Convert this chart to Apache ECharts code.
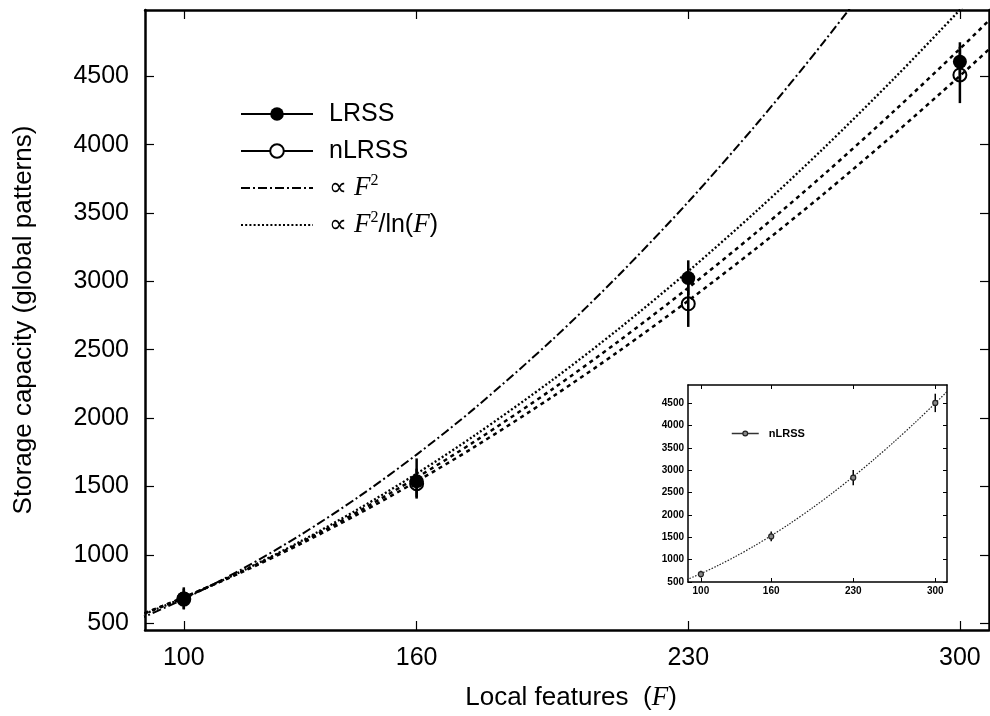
<!DOCTYPE html>
<html><head><meta charset="utf-8">
<script src="https://cdn.jsdelivr.net/npm/echarts@6/dist/echarts.min.js"></script>
<style>html,body{margin:0;padding:0;background:#fff}#c{width:990px;height:716px}</style>
</head><body><div id="c"></div>
<script>
// ---- data ----
const features = [100, 160, 230, 300];
const xTicks = [100, 160, 230, 300];
const yTicks = [500, 1000, 1500, 2000, 2500, 3000, 3500, 4000, 4500];
const insetYTicks = [500, 1000, 1500, 2000, 2500, 3000, 3500, 4000, 4500];

const lrss    = [681, 1538, 3024, 4607];
const lrssLo  = [605, 1420, 2900, 4470];
const lrssHi  = [762, 1705, 3154, 4749];
const nlrss   = [676, 1520, 2836, 4510];
const nlrssLo = [600, 1411, 2667, 4304];
const nlrssHi = [752, 1630, 3005, 4716];

// curves
const curveF      = [88, 100, 115, 130, 145, 160, 175, 195, 212, 230, 248, 265, 283, 300, 310];
const curveF2     = [524, 677, 895, 1144, 1423, 1733, 2073, 2574, 3043, 3581, 4164, 4754, 5422, 6093, 6506];
const curveF2lnF  = [546, 686, 881, 1097, 1335, 1594, 1874, 2279, 2651, 3074, 3525, 3977, 4483, 4986, 5293];
const curveFitL   = [550, 688, 878, 1088, 1317, 1565, 1830, 2212, 2561, 2953, 3369, 3783, 4245, 4701, 4979];
const curveFitN   = [553, 688, 874, 1078, 1299, 1537, 1791, 2156, 2487, 2859, 3252, 3642, 4076, 4503, 4763];
const insetCurve  = [553, 688, 874, 1078, 1299, 1537, 1791, 2156, 2487, 2859, 3252, 3642, 4076, 4503, 4763];

// ---- helpers ----
const pairs = (xs, ys) => xs.map((x, i) => [x, ys[i]]);
const triples = (xs, lo, hi) => xs.map((x, i) => [x, lo[i], hi[i]]);
const FONT = 'Liberation Sans';

function errRender(width) {
  return function (params, api) {
    const x = api.value(0);
    const p1 = api.coord([x, api.value(1)]);
    const p2 = api.coord([x, api.value(2)]);
    return { type: 'line', shape: { x1: p1[0], y1: p1[1], x2: p2[0], y2: p2[1] },
      style: { stroke: '#000', lineWidth: width } };
  };
}

function axis(opts) {
  const o = {
    type: 'value', gridIndex: opts.grid, min: opts.min, max: opts.max,
    position: opts.position,
    axisLine: { show: true, onZero: false, lineStyle: { color: '#000', width: opts.lw } },
    axisTick: { show: true, inside: true, length: opts.tl, customValues: opts.ticks,
      lineStyle: { color: '#000', width: opts.tw } },
    axisLabel: { show: !!opts.labels, customValues: opts.ticks, color: '#000',
      formatter: v => String(v),
      fontSize: opts.fs, fontFamily: FONT, fontWeight: opts.fw || 'normal', margin: opts.margin },
    splitLine: { show: false }
  };
  return Object.assign(o, opts.extra || {});
}

const chart = echarts.init(document.getElementById('c'), null, { renderer: 'canvas' });

const legendNames = {
  'LRSS': 'LRSS',
  'nLRSS': 'nLRSS',
  'F2': '∝ {i|F}{s|2}',
  'F2lnF': '∝ {i|F}{s|2}/ln({i|F})'
};
const noSymbol = { color: 'rgba(0,0,0,0)', borderColor: 'rgba(0,0,0,0)', borderWidth: 0 };

const option = {
  animation: false,
  backgroundColor: '#fff',
  grid: [
    { left: 145, top: 10, width: 844, height: 626 },
    { left: 688, top: 385, width: 259, height: 197, show: true, backgroundColor: '#fff', borderWidth: 0 }
  ],
  xAxis: [
    axis({ grid: 0, min: 90, max: 307.5, position: 'bottom', lw: 2.5, tl: 9, tw: 1.2, ticks: xTicks,
      labels: true, fs: 25, margin: 16,
      extra: { name: 'Local features  ({f|F})', nameLocation: 'middle', nameGap: 54,
        nameTextStyle: { fontSize: 26, fontFamily: FONT, color: '#000', padding: [0, 0, 0, 8],
          rich: { f: { fontSize: 27, fontFamily: 'Liberation Serif', fontStyle: 'italic', color: '#000' } } } } }),
    axis({ grid: 0, min: 90, max: 307.5, position: 'top', lw: 2.5, tl: 9, tw: 1.2, ticks: xTicks }),
    axis({ grid: 1, min: 89, max: 310, position: 'bottom', lw: 1.5, tl: 4, tw: 1, ticks: xTicks,
      labels: true, fs: 10, fw: 'bold', margin: 4 }),
    axis({ grid: 1, min: 89, max: 310, position: 'top', lw: 1.5, tl: 4, tw: 1, ticks: xTicks })
  ],
  yAxis: [
    axis({ grid: 0, min: 450, max: 4985, position: 'left', lw: 2.5, tl: 9, tw: 1.2, ticks: yTicks,
      labels: true, fs: 25, margin: 16,
      extra: { name: 'Storage capacity (global patterns)', nameLocation: 'middle', nameGap: 108,
        nameTextStyle: { fontSize: 26, fontFamily: FONT, color: '#000' } } }),
    axis({ grid: 0, min: 450, max: 4985, position: 'right', lw: 2.5, tl: 9, tw: 1.2, ticks: yTicks }),
    axis({ grid: 1, min: 500, max: 4911, position: 'left', lw: 1.5, tl: 4, tw: 1, ticks: insetYTicks,
      labels: true, fs: 10, fw: 'bold', margin: 4 }),
    axis({ grid: 1, min: 500, max: 4911, position: 'right', lw: 1.5, tl: 4, tw: 1, ticks: insetYTicks })
  ],
  legend: [
    {
      orient: 'vertical', left: 235, top: 94, itemWidth: 72, itemHeight: 17, itemGap: 7,
      selectedMode: false,
      data: [
        { name: 'LRSS', lineStyle: { opacity: 1, width: 2, color: '#000', type: 'solid' },
          itemStyle: { color: '#000', borderWidth: 0 } },
        { name: 'nLRSS', lineStyle: { opacity: 1, width: 2, color: '#000', type: 'solid' },
          itemStyle: { color: '#fff', borderColor: '#000', borderWidth: 2 } },
        { name: 'F2', itemStyle: noSymbol },
        { name: 'F2lnF', itemStyle: noSymbol }
      ],
      formatter: n => legendNames[n],
      textStyle: {
        fontSize: 25, fontFamily: FONT, color: '#000', lineHeight: 30, padding: [0, 0, 0, 11],
        rich: {
          i: { fontSize: 27, fontFamily: 'Liberation Serif', fontStyle: 'italic', color: '#000', lineHeight: 30 },
          s: { fontSize: 16, fontFamily: 'Liberation Serif', color: '#000', verticalAlign: 'top', lineHeight: 16 }
        }
      }
    },
    {
      orient: 'vertical', left: 726, top: 423, itemWidth: 27, itemHeight: 6,
      selectedMode: false,
      data: [{ name: 'nLRSS_inset', lineStyle: { opacity: 1, width: 1.5, color: '#333', type: 'solid' },
        itemStyle: { color: '#888', borderColor: '#222', borderWidth: 1.2 } }],
      formatter: () => 'nLRSS',
      textStyle: { fontSize: 11, fontWeight: 'bold', fontFamily: FONT, color: '#000', padding: [0, 0, 0, 5] }
    }
  ],
  series: [
    { name: 'F2', type: 'line', xAxisIndex: 0, yAxisIndex: 0, data: pairs(curveF, curveF2),
      smooth: 0.3, symbol: 'none', clip: true, z: 2,
      lineStyle: { color: '#000', width: 2, type: [9, 3, 2, 3] }, itemStyle: { color: '#000' } },
    { name: 'F2lnF', type: 'line', xAxisIndex: 0, yAxisIndex: 0, data: pairs(curveF, curveF2lnF),
      smooth: 0.3, symbol: 'none', clip: true, z: 2,
      lineStyle: { color: '#000', width: 2.3, type: [2, 2.2] }, itemStyle: { color: '#000' } },
    { name: 'fitLRSS', type: 'line', xAxisIndex: 0, yAxisIndex: 0, data: pairs(curveF, curveFitL),
      smooth: 0.3, symbol: 'none', clip: true, z: 2,
      lineStyle: { color: '#000', width: 2.5, type: [4, 4] } },
    { name: 'fitnLRSS', type: 'line', xAxisIndex: 0, yAxisIndex: 0, data: pairs(curveF, curveFitN),
      smooth: 0.3, symbol: 'none', clip: true, z: 2,
      lineStyle: { color: '#000', width: 2.5, type: [4, 4] } },
    { name: 'errLRSS', type: 'custom', xAxisIndex: 0, yAxisIndex: 0, z: 3,
      data: triples(features, lrssLo, lrssHi), encode: { x: 0, y: [1, 2] }, renderItem: errRender(2.5) },
    { name: 'errnLRSS', type: 'custom', xAxisIndex: 0, yAxisIndex: 0, z: 3,
      data: triples(features, nlrssLo, nlrssHi), encode: { x: 0, y: [1, 2] }, renderItem: errRender(2.5) },
    { name: 'LRSS', type: 'line', xAxisIndex: 0, yAxisIndex: 0, data: pairs(features, lrss), z: 4,
      symbol: 'circle', symbolSize: 14, showSymbol: true,
      lineStyle: { opacity: 0, width: 2, color: '#000' }, itemStyle: { color: '#000' } },
    { name: 'nLRSS', type: 'line', xAxisIndex: 0, yAxisIndex: 0, data: pairs(features, nlrss), z: 5,
      symbol: 'circle', symbolSize: 13, showSymbol: true,
      lineStyle: { opacity: 0, width: 2, color: '#000' },
      itemStyle: { color: 'rgba(0,0,0,0)', borderColor: '#000', borderWidth: 2 } },
    // inset
    { name: 'insetFit', type: 'line', xAxisIndex: 2, yAxisIndex: 2, data: pairs(curveF, insetCurve),
      smooth: 0.3, symbol: 'none', clip: true, z: 6,
      lineStyle: { color: '#222', width: 1.2, type: [1.5, 1.5] } },
    { name: 'insetErr', type: 'custom', xAxisIndex: 2, yAxisIndex: 2, z: 7,
      data: triples(features, nlrssLo, nlrssHi), encode: { x: 0, y: [1, 2] }, renderItem: errRender(1.5) },
    { name: 'nLRSS_inset', type: 'line', xAxisIndex: 2, yAxisIndex: 2, data: pairs(features, nlrss), z: 8,
      symbol: 'circle', symbolSize: 5, showSymbol: true,
      lineStyle: { opacity: 0, width: 1.5, color: '#333' },
      itemStyle: { color: '#888', borderColor: '#222', borderWidth: 1.2 } }
  ]
};
chart.setOption(option);
</script>
</body></html>
